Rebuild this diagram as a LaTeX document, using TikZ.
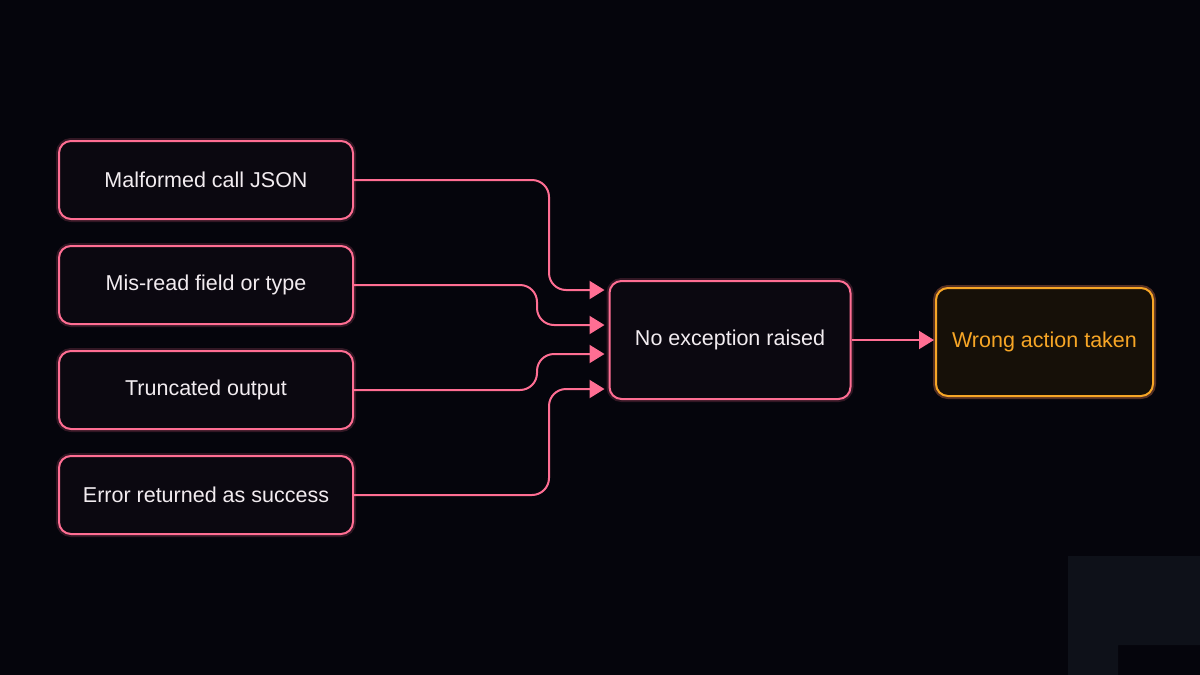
\documentclass[tikz,border=0pt]{standalone}
\usepackage{fontspec}
\setmainfont{Liberation Sans}
\usetikzlibrary{arrows.meta}
\usetikzlibrary{calc}
\definecolor{bgc}{HTML}{05050C}
\definecolor{pinkc}{HTML}{FF6E93}
\definecolor{orangec}{HTML}{F7A626}
\definecolor{boxfill}{HTML}{0B0810}
\definecolor{orangefill}{HTML}{161008}
\definecolor{cornerc}{HTML}{0E1119}
\definecolor{textc}{HTML}{F2ECF0}
\begin{document}
\begin{tikzpicture}[x=1pt, y=-1pt,
    failbox/.style={draw=pinkc, fill=boxfill, line width=2pt, rounded corners=12pt,
        minimum width=294pt, minimum height=78pt, text=textc,
        font=\fontsize{21.5}{25}\selectfont,
        preaction={draw=pinkc, opacity=0.18, line width=6pt}},
    hubbox/.style={failbox, minimum width=241pt, minimum height=118pt},
    endbox/.style={failbox, draw=orangec, fill=orangefill, text=orangec,
        minimum width=217pt, minimum height=108pt,
        preaction={draw=orangec, opacity=0.18, line width=6pt}},
    flow/.style={draw=pinkc, line width=2pt, rounded corners=17pt,
        -{Triangle[length=15pt,width=18pt]}, shorten >=4pt}]
    % - Background and corner mark
    \fill[bgc] (0,0) rectangle (1200,675);
    \fill[cornerc] (1068,556)--(1200,556)--(1200,645)--(1118,645)--(1118,675)--(1068,675)--cycle;
    % - Failure sources
    \node[failbox] (malformed) at (206,180){Malformed call JSON};
    \node[failbox] (misread) at (206,285){Mis-read field or type};
    \node[failbox] (truncated) at (206,390){Truncated output};
    \node[failbox] (errsucc) at (206,495){Error returned as success};
    % - Outcome boxes
    \node[hubbox] (noexc) at (730,340){No exception raised};
    \node[endbox] (wrong) at (1044.5,342){Wrong action taken};
    % - Bend columns and inlets
    \coordinate (outer) at (549,0);
    \coordinate (inner) at (537,0);
    \coordinate (in1) at ($(noexc.west)+(0,-50)$);
    \coordinate (in2) at ($(noexc.west)+(0,-15)$);
    \coordinate (in3) at ($(noexc.west)+(0,14)$);
    \coordinate (in4) at ($(noexc.west)+(0,49)$);
    % - Connectors
    \draw[flow] (malformed.east) -| (outer |- in1) -- (in1);
    \draw[flow] (misread.east) -| (inner |- in2) -- (in2);
    \draw[flow] (truncated.east) -| (inner |- in3) -- (in3);
    \draw[flow] (errsucc.east) -| (outer |- in4) -- (in4);
    \draw[flow, shorten >=1pt] (noexc.east) -- (wrong.west |- noexc.east);
\end{tikzpicture}
\end{document}
